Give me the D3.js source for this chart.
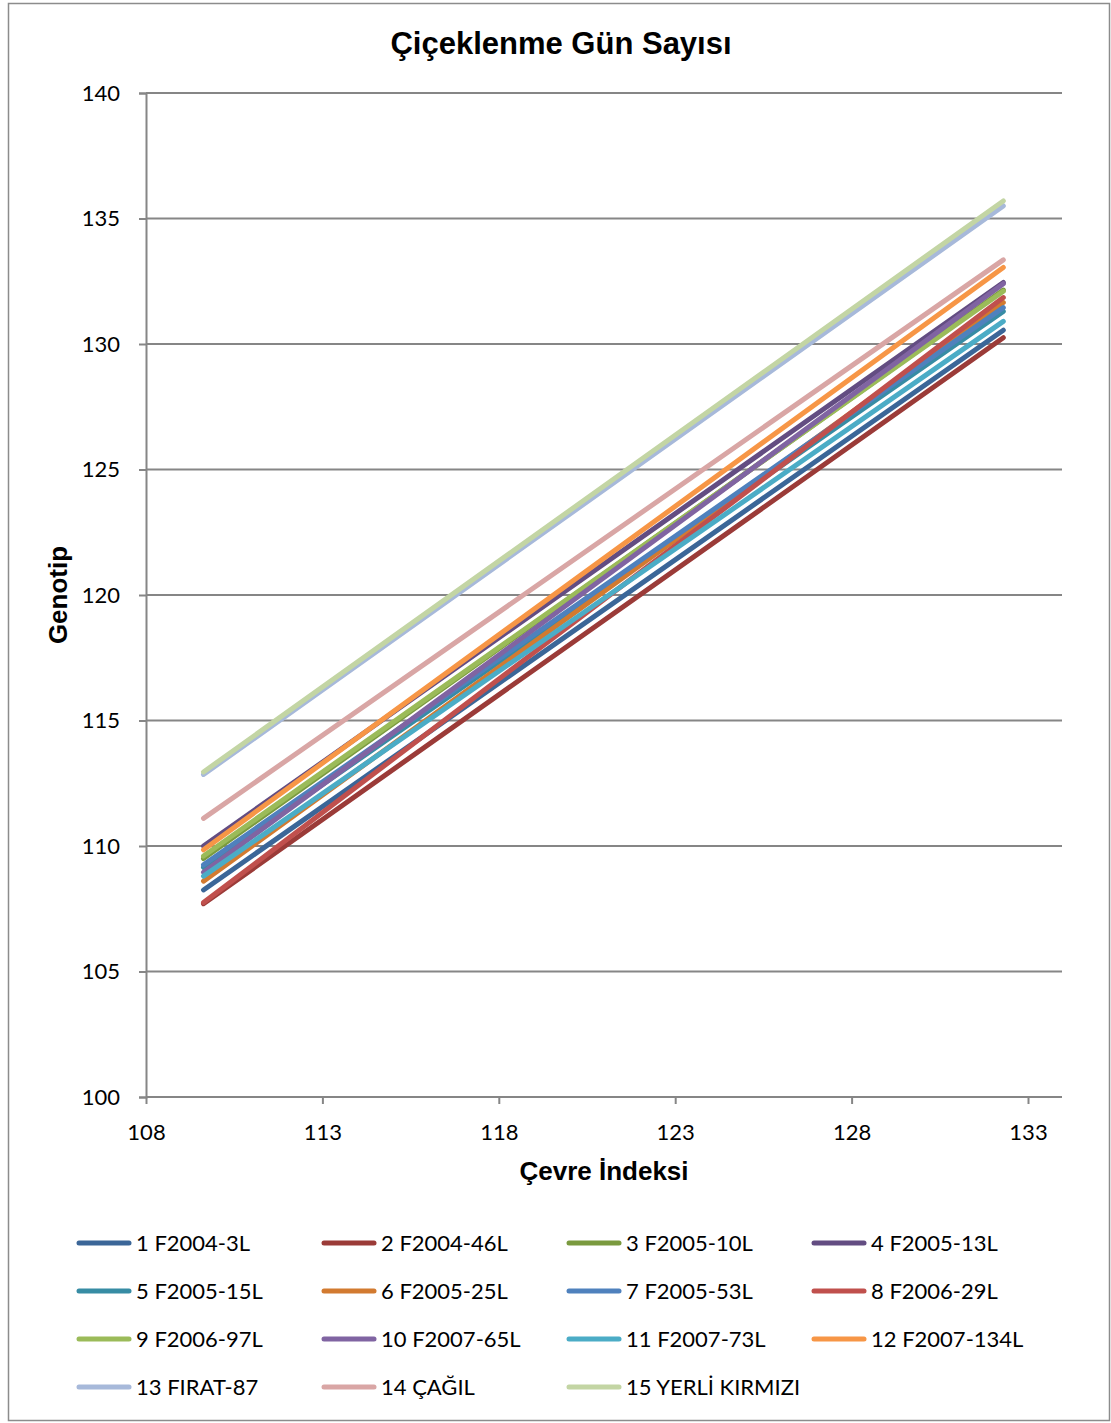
<!DOCTYPE html>
<html>
<head>
<meta charset="utf-8">
<script src="https://cdn.jsdelivr.net/npm/d3@7"></script>
<style>
  body { margin: 0; background: #fff; }
  svg { display: block; }
</style>
</head>
<body>
<div id="chart"></div>
<script>
let width = 1111;
let height = 1423;
let margin = ({top: 93, right: 49, bottom: 326, left: 146});

// genotypes and their regression line end points (environment index -> days)
let genotypes = ["1 F2004-3L", "2 F2004-46L", "3 F2005-10L", "4 F2005-13L", "5 F2005-15L",
  "6 F2005-25L", "7 F2005-53L", "8 F2006-29L", "9 F2006-97L", "10 F2007-65L",
  "11 F2007-73L", "12 F2007-134L", "13 FIRAT-87", "14 ÇAĞIL", "15 YERLİ KIRMIZI"];
let envIndex = [109.63, 132.3];
let startValues = [108.25, 107.7, 109.5, 110.0, 109.15, 108.6, 109.25, 107.75, 109.6, 108.95, 108.8, 109.85, 112.85, 111.1, 112.95];
let endValues = [130.55, 130.25, 132.15, 132.45, 131.3, 131.65, 131.45, 131.85, 132.1, 132.4, 130.9, 133.05, 135.5, 133.35, 135.7];
let colors = ["#3B6698", "#9B3B38", "#7A9A3F", "#634D82", "#378CA4", "#D27A30", "#4F81BD", "#C0504D",
  "#9BBB59", "#8064A2", "#4BACC6", "#F79646", "#A7B9DA", "#D9A6A5", "#C3D5A4"];
let xTicks = [108, 113, 118, 123, 128, 133];
let yTicks = [100, 105, 110, 115, 120, 125, 130, 135, 140];

let series = genotypes.map((name, i) => ({
  name: name,
  color: colors[i],
  values: [{x: envIndex[0], y: startValues[i]}, {x: envIndex[1], y: endValues[i]}]
}));

let x = d3.scaleLinear()
    .domain([108, 133])
    .range([margin.left, 1028]);
let y = d3.scaleLinear()
    .domain([100, 140])
    .range([height - margin.bottom, margin.top]);

let svg = d3.select("#chart")
    .append("svg")
    .attr("width", width)
    .attr("height", height)
    .attr("viewBox", [0, 0, width, height]);

// outer chart border
svg.append("rect")
    .attr("x", 8.5).attr("y", 3.5)
    .attr("width", width - 10).attr("height", height - 6)
    .attr("fill", "none")
    .attr("stroke", "#8c8c8c")
    .attr("stroke-width", 1.5);

svg.append("text")
    .attr("x", 561).attr("y", 54)
    .attr("text-anchor", "middle")
    .attr("font-family", "Liberation Sans, Arial, sans-serif")
    .attr("font-weight", "bold")
    .attr("font-size", 31)
    .text("Çiçeklenme Gün Sayısı");

// horizontal gridlines
svg.append("g")
    .attr("stroke", "#868686")
    .attr("stroke-width", 2)
    .selectAll("line")
    .data(yTicks.slice(1))
    .join("line")
    .attr("x1", margin.left)
    .attr("x2", width - margin.right)
    .attr("y1", d => y(d))
    .attr("y2", d => y(d));

let yAxis = g => g
    .attr("transform", `translate(${margin.left},0)`)
    .call(d3.axisLeft(y).tickValues(yTicks).tickSize(7).tickPadding(19))
    .call(g => g.select(".domain").attr("stroke", "#868686").attr("stroke-width", 2))
    .call(g => g.selectAll(".tick line").attr("stroke", "#868686").attr("stroke-width", 2))
    .call(g => g.selectAll(".tick text")
        .attr("font-family", "Lato, Calibri, sans-serif")
        .attr("font-size", 22)
        .attr("fill", "#000"));

let xAxis = g => g
    .attr("transform", `translate(0,${y(100)})`)
    .call(d3.axisBottom(x).tickValues(xTicks).tickSize(7).tickPadding(20))
    .call(g => g.select(".domain").remove())
    .call(g => g.append("line")
        .attr("x1", margin.left).attr("x2", width - margin.right)
        .attr("stroke", "#868686").attr("stroke-width", 2))
    .call(g => g.selectAll(".tick line").attr("stroke", "#868686").attr("stroke-width", 2))
    .call(g => g.selectAll(".tick text")
        .attr("font-family", "Lato, Calibri, sans-serif")
        .attr("font-size", 22)
        .attr("fill", "#000"));

svg.append("g").call(xAxis);
svg.append("g").call(yAxis);

svg.append("text")
    .attr("x", 604).attr("y", 1180)
    .attr("text-anchor", "middle")
    .attr("font-family", "Liberation Sans, Arial, sans-serif")
    .attr("font-weight", "bold")
    .attr("font-size", 26)
    .text("Çevre İndeksi");

svg.append("text")
    .attr("transform", "translate(67,595) rotate(-90)")
    .attr("text-anchor", "middle")
    .attr("font-family", "Liberation Sans, Arial, sans-serif")
    .attr("font-weight", "bold")
    .attr("font-size", 26)
    .text("Genotip");

let line = d3.line()
    .x(d => x(d.x))
    .y(d => y(d.y));

svg.append("g")
    .attr("fill", "none")
    .attr("stroke-width", 5)
    .attr("stroke-linecap", "round")
    .selectAll("path")
    .data(series)
    .join("path")
    .attr("stroke", d => d.color)
    .attr("d", d => line(d.values));

// legend, 4 columns
let legend = svg.append("g")
    .selectAll("g")
    .data(series)
    .join("g")
    .attr("transform", (d, i) => `translate(${79 + (i % 4) * 245},${1243 + Math.floor(i / 4) * 48})`);

legend.append("line")
    .attr("x1", 0).attr("x2", 50)
    .attr("stroke", d => d.color)
    .attr("stroke-width", 5)
    .attr("stroke-linecap", "round");

legend.append("text")
    .attr("x", 57)
    .attr("dy", "0.35em")
    .attr("font-family", "Lato, Calibri, sans-serif")
    .attr("font-size", 22)
    .text(d => d.name);
</script>
</body>
</html>
